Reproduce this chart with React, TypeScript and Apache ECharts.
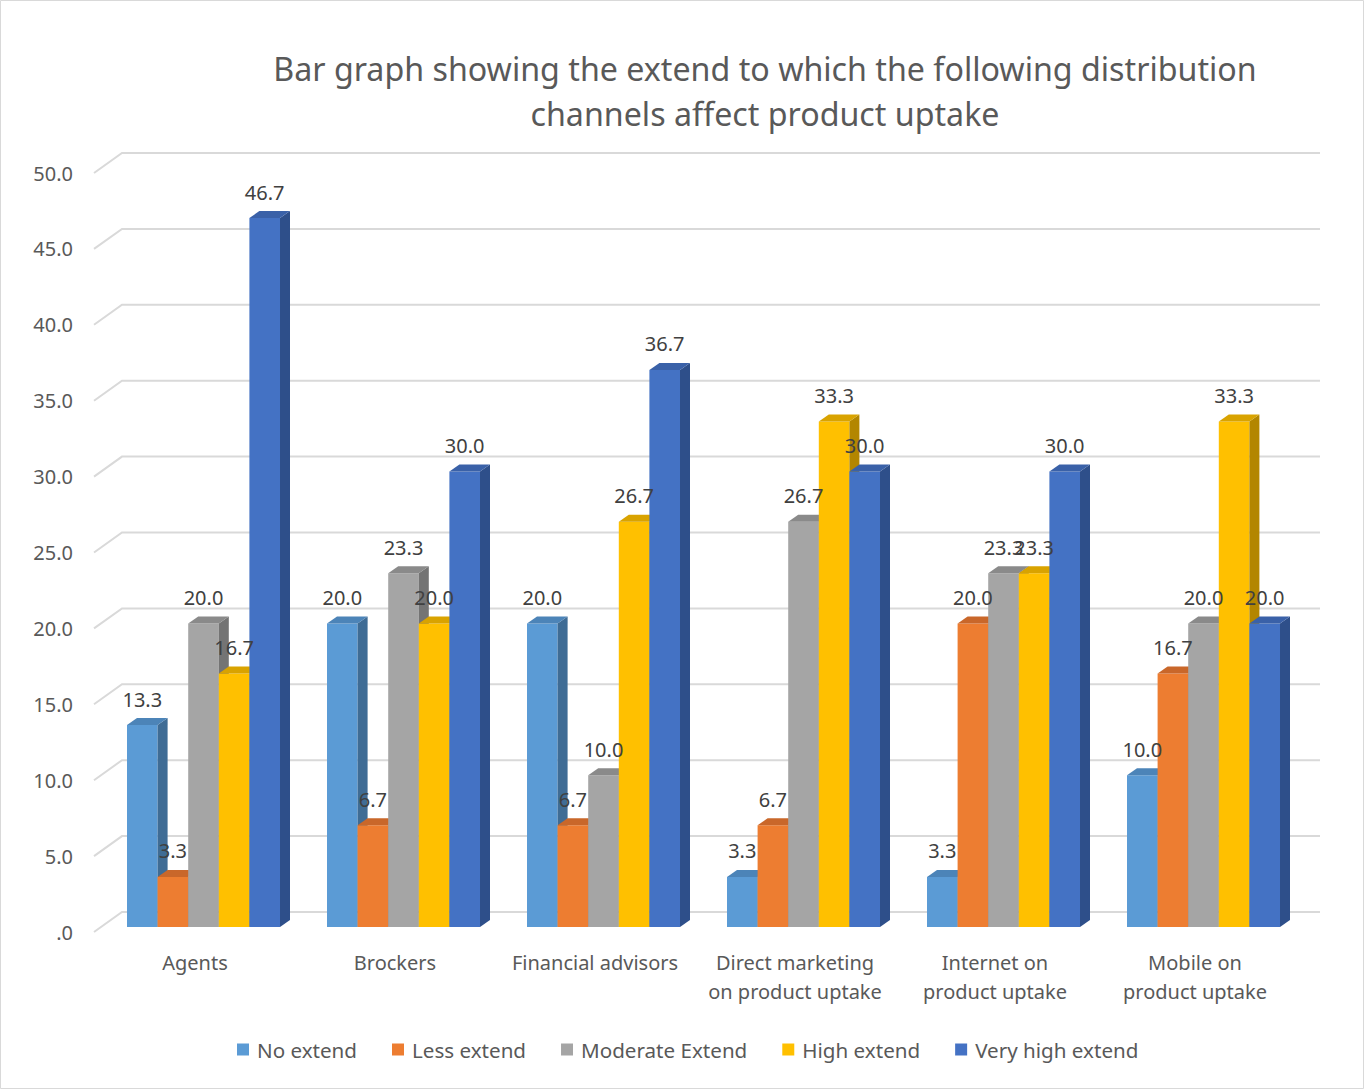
import React, { useEffect, useRef } from "react";
import * as echarts from "echarts";

const categories = [
  "Agents",
  "Brockers",
  "Financial advisors",
  "Direct marketing\non product uptake",
  "Internet on\nproduct uptake",
  "Mobile on\nproduct uptake",
];
const seriesNames = ["No extend", "Less extend", "Moderate Extend", "High extend", "Very high extend"];
const noExtend = [13.3, 20.0, 20.0, 3.3, 3.3, 10.0];
const lessExtend = [3.3, 6.7, 6.7, 6.7, 20.0, 16.7];
const moderateExtend = [20.0, 23.3, 10.0, 26.7, 23.3, 20.0];
const highExtend = [16.7, 20.0, 26.7, 33.3, 23.3, 33.3];
const veryHighExtend = [46.7, 30.0, 36.7, 30.0, 30.0, 20.0];
const seriesValues = [noExtend, lessExtend, moderateExtend, highExtend, veryHighExtend];
const yTicks = [0, 5, 10, 15, 20, 25, 30, 35, 40, 45, 50];

const FRONT = ["#5B9BD5", "#ED7D31", "#A5A5A5", "#FFC000", "#4472C4"];
const TOP = ["#4C84B8", "#C9672A", "#8A8A8A", "#D9A300", "#3A61A8"];
const SIDE = ["#3F6C95", "#A8571F", "#747474", "#B38600", "#2E4F8A"];

const FONT = "'Noto Sans', sans-serif";
const BAR_W = 30.6;
const BAR_OFF = -68;
const LIFT = 5;
const DX = 10;
const DY = 7;
const GDX = 28;
const GDY = 20;

export default function App() {
  const ref = useRef<HTMLDivElement>(null);
  useEffect(() => {
    if (!ref.current) return;
    const chart = echarts.init(ref.current, null, { renderer: "svg" });

    const barSeries = seriesValues.map((vals, s) => ({
      type: "custom",
      name: seriesNames[s],
      itemStyle: { color: FRONT[s] },
      z: 3,
      data: vals.map((v, i) => [i, v]),
      encode: { x: 0, y: 1 },
      renderItem: (params: any, api: any) => {
        const cat = api.value(0);
        const v = api.value(1);
        const t = api.coord([cat, v]);
        const b = api.coord([cat, 0]);
        const xL = t[0] + BAR_OFF + s * BAR_W;
        const xR = xL + BAR_W;
        const yT = t[1] - LIFT;
        const yB = b[1] - LIFT;
        return {
          type: "group",
          children: [
            {
              type: "polygon",
              shape: { points: [[xL, yB], [xR, yB], [xR, yT], [xL, yT]] },
              style: { fill: FRONT[s] },
            },
            {
              type: "polygon",
              shape: { points: [[xR, yB], [xR + DX, yB - DY], [xR + DX, yT - DY], [xR, yT]] },
              style: { fill: SIDE[s] },
            },
            {
              type: "polygon",
              shape: { points: [[xL, yT], [xR, yT], [xR + DX, yT - DY], [xL + DX, yT - DY]] },
              style: { fill: TOP[s] },
            },
          ],
        };
      },
    }));

    const labelData: number[][] = [];
    seriesValues.forEach((vals, s) => vals.forEach((v, i) => labelData.push([i, v, s])));

    const option = {
      animation: false,
      backgroundColor: "#ffffff",
      textStyle: { fontFamily: FONT },
      title: {
        text: "Bar graph showing the extend to which the following distribution\nchannels affect product uptake",
        left: 760,
        textAlign: "center",
        top: 41,
        textStyle: { fontFamily: FONT, fontSize: 32.2, fontWeight: "normal", color: "#595959", lineHeight: 45 },
      },
      legend: {
        data: seriesNames,
        top: 1034,
        left: 232,
        icon: "rect",
        itemWidth: 12,
        itemHeight: 12,
        itemGap: 35,
        textStyle: { fontFamily: FONT, fontSize: 20.6, color: "#595959", padding: [0, 0, 0, 3] },
      },
      grid: { left: 95, right: 69, top: 173, bottom: 157 },
      xAxis: {
        type: "category",
        data: categories,
        axisLine: { show: false },
        axisTick: { show: false },
        splitLine: { show: false },
        axisLabel: { margin: 16, fontFamily: FONT, fontSize: 20, color: "#595959", lineHeight: 29, interval: 0 },
      },
      yAxis: {
        type: "value",
        min: 0,
        max: 50,
        interval: 5,
        axisLine: { show: false },
        axisTick: { show: false },
        splitLine: { show: false },
        axisLabel: {
          margin: 22,
          fontFamily: FONT,
          fontSize: 20,
          color: "#595959",
          formatter: (v: number) => (v === 0 ? ".0" : v.toFixed(1)),
        },
      },
      graphic: [
        {
          type: "rect",
          shape: { x: 0.5, y: 0.5, width: 1363, height: 1088 },
          style: { fill: "none", stroke: "#d9d9d9", lineWidth: 1 },
        },
      ],
      series: [
        {
          type: "custom",
          name: "grid",
          z: 1,
          silent: true,
          data: yTicks.map((v) => [0, v]),
          encode: { x: 0, y: 1 },
          renderItem: (params: any, api: any) => {
            const p = api.coord([0, api.value(1)]);
            const cs = params.coordSys;
            const x0 = cs.x - 1;
            const x1 = cs.x + cs.width + 25;
            return {
              type: "polyline",
              shape: { points: [[x0, p[1]], [x0 + GDX, p[1] - GDY], [x1, p[1] - GDY]] },
              style: { stroke: "#d9d9d9", lineWidth: 2, fill: "none" },
            };
          },
        },
        ...barSeries,
        {
          type: "custom",
          name: "labels",
          z: 10,
          silent: true,
          data: labelData,
          encode: { x: 0, y: 1 },
          renderItem: (params: any, api: any) => {
            const cat = api.value(0);
            const v = api.value(1);
            const s = api.value(2);
            const t = api.coord([cat, v]);
            const cx = t[0] + BAR_OFF + s * BAR_W + BAR_W / 2;
            return {
              type: "text",
              style: {
                text: v.toFixed(1),
                x: cx,
                y: t[1] - LIFT - 26,
                textAlign: "center",
                textVerticalAlign: "middle",
                fill: "#404040",
                font: `20px ${FONT}`,
              },
            };
          },
        },
      ],
    };
    chart.setOption(option as any);
    return () => chart.dispose();
  }, []);
  return (
    <div style={{ position: "absolute", left: 0, top: 0, width: 1364, height: 1089 }}>
      <div ref={ref} style={{ width: 1364, height: 1089 }} />
    </div>
  );
}
